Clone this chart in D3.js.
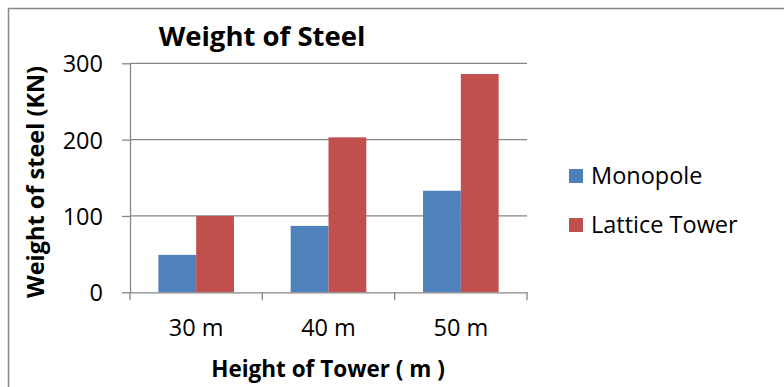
<!DOCTYPE html>
<html>
<head>
<meta charset="utf-8">
<script src="https://cdn.jsdelivr.net/npm/d3@7/dist/d3.min.js"></script>
<style>
  html, body { margin: 0; padding: 0; background: #fff; }
  svg { display: block; font-family: "Open Sans", "Noto Sans", sans-serif; }
</style>
</head>
<body>
<svg id="chart" width="784" height="387"></svg>
<script>
// Chart data
const categories = ["30 m", "40 m", "50 m"];
const seriesNames = ["Monopole", "Lattice Tower"];
const monopole = [49, 87, 133];
const lattice = [100, 203, 286];
const yTicks = [0, 100, 200, 300];

const colors = ["#4F81BD", "#C0504D"];
const values = [monopole, lattice];

const svg = d3.select("#chart");
const W = 784, H = 387;

// Plot area
const x0 = 130, x1 = 527, yTop = 63.3, yBot = 292.3;

// Outer frame (only top and left edges fall inside the view)
svg.append("path")
  .attr("d", `M8.5,${H} L8.5,8.5 L${W},8.5`)
  .attr("fill", "none").attr("stroke", "#878787").attr("stroke-width", 1.5);

const x = d3.scaleBand().domain(categories).range([x0, x1]).paddingInner(0).paddingOuter(0);
const y = d3.scaleLinear().domain([0, 300]).range([yBot, yTop]);

// Gridlines
svg.append("g")
  .selectAll("line").data(yTicks.filter(d => d > 0)).join("line")
  .attr("x1", x0).attr("x2", x1)
  .attr("y1", d => y(d)).attr("y2", d => y(d))
  .attr("stroke", "#868686").attr("stroke-width", 1.3);

// Bars: two per category, gap width 150%
const bw = x.bandwidth() / 3.5;
const groups = svg.append("g");
seriesNames.forEach((s, si) => {
  groups.append("g").selectAll("rect").data(values[si]).join("rect")
    .attr("x", (d, i) => x(categories[i]) + 0.75 * bw + si * bw)
    .attr("width", bw)
    .attr("y", d => y(d))
    .attr("height", d => yBot - y(d))
    .attr("fill", colors[si]);
});

// Y axis
const yAxis = d3.axisLeft(y).tickValues(yTicks).tickSize(8).tickPadding(19).tickSizeOuter(0);
const gy = svg.append("g").attr("transform", `translate(${x0},0)`).call(yAxis);
gy.select(".domain").attr("stroke", "#868686").attr("stroke-width", 1.3);
gy.selectAll(".tick line").attr("stroke", "#868686").attr("stroke-width", 1.3);
gy.selectAll(".tick text")
  .attr("font-family", "Open Sans").attr("font-size", 23.5).attr("fill", "#000")
  .attr("dy", "0.36em");

// X axis
const xAxis = d3.axisBottom(x).tickSize(0).tickPadding(27).tickSizeOuter(0);
const gx = svg.append("g").attr("transform", `translate(0,${yBot})`).call(xAxis);
gx.select(".domain").attr("stroke", "#868686").attr("stroke-width", 1.3);
gx.selectAll(".tick text")
  .attr("font-family", "Open Sans").attr("font-size", 23.5).attr("fill", "#000");
// Category separator ticks
gx.append("g").selectAll("line")
  .data(categories.concat(["__end"])).join("line")
  .attr("x1", (d, i) => i < categories.length ? x(d) : x1)
  .attr("x2", (d, i) => i < categories.length ? x(d) : x1)
  .attr("y1", 0).attr("y2", 8)
  .attr("stroke", "#868686").attr("stroke-width", 1.3);

// Title
svg.append("text")
  .attr("x", 262).attr("y", 46)
  .attr("text-anchor", "middle")
  .attr("font-weight", "bold").attr("font-size", 27.5)
  .text("Weight of Steel");

// Axis titles
svg.append("text")
  .attr("x", 328).attr("y", 377)
  .attr("text-anchor", "middle")
  .attr("font-weight", "bold").attr("font-size", 22.5)
  .text("Height of Tower ( m )");

svg.append("text")
  .attr("transform", "translate(44,182) rotate(-90)")
  .attr("text-anchor", "middle")
  .attr("font-weight", "bold").attr("font-size", 23.5)
  .text("Weight of steel (KN)");

// Legend
const legend = svg.append("g");
const legendY = [176, 225];
seriesNames.forEach((s, i) => {
  legend.append("rect")
    .attr("x", 569).attr("y", legendY[i] - 7).attr("width", 14).attr("height", 14)
    .attr("fill", colors[i]);
  legend.append("text")
    .attr("x", 591).attr("y", legendY[i])
    .attr("dy", "0.36em")
    .attr("font-size", 23.5)
    .text(s);
});
</script>
</body>
</html>
